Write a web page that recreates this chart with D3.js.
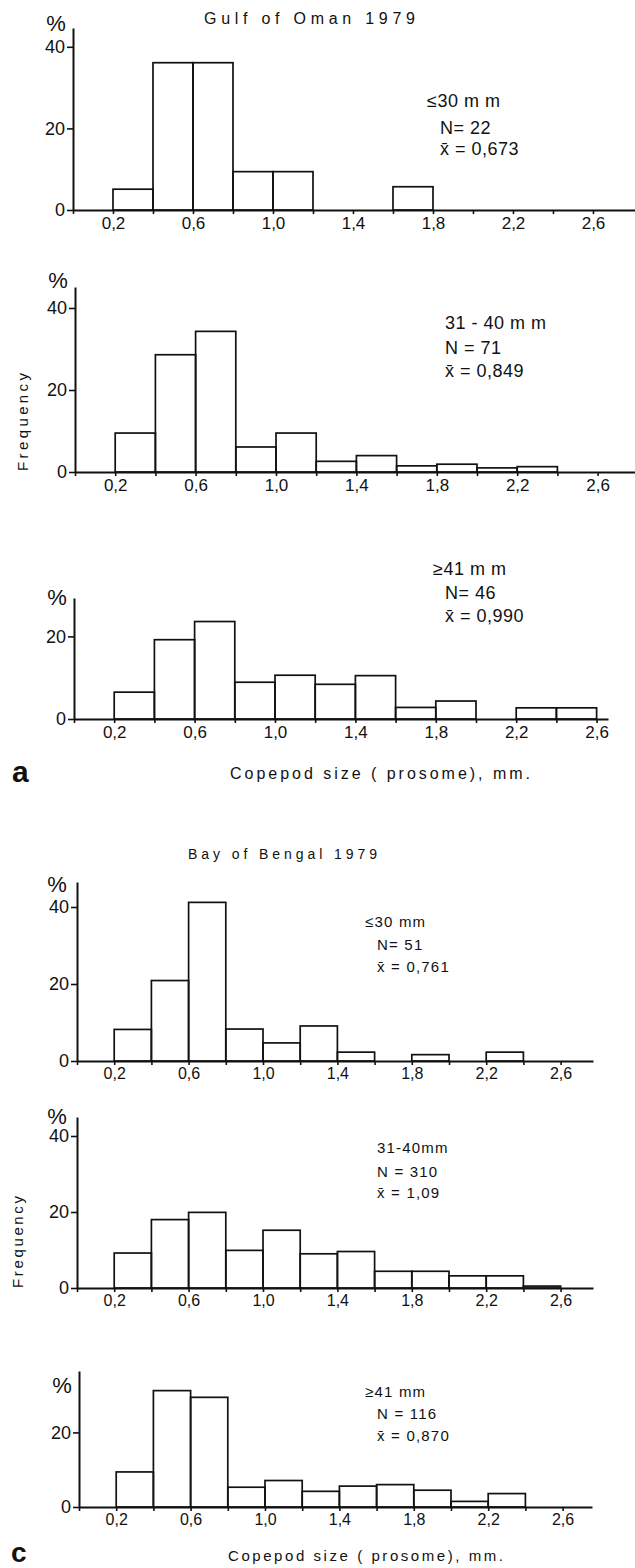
<!DOCTYPE html>
<html lang="en">
<head>
    <meta charset="UTF-8">
    <title>Copepod size frequency</title>
    <script src="https://d3js.org/d3.v7.min.js"></script>
    <style>
        body {
            margin: 0;
            padding: 0;
            background-color: #fff;
        }
        svg text {
            font-family: "Liberation Sans", Arial, sans-serif;
            fill: #111;
        }
    </style>
</head>
<body>
    <svg id="chart" width="635" height="1568"></svg>

    <script>
        // Size classes (prosome, mm): each bin starts here and is 0.2 wide
        const binStarts = [0.2, 0.4, 0.6, 0.8, 1.0, 1.2, 1.4, 1.6, 1.8, 2.0, 2.2, 2.4];
        const binWidth = 0.2;

        // Frequency (%) per bin
        const omanSmall   = [5.1, 36.1, 36.1, 9.4, 9.4, 0, 0, 5.7, 0, 0, 0, 0];
        const omanMid     = [9.5, 28.6, 34.3, 6.1, 9.5, 2.6, 4.0, 1.5, 1.9, 1.0, 1.3, 0];
        const omanLarge   = [6.5, 19.2, 23.6, 8.9, 10.6, 8.4, 10.5, 2.8, 4.35, 0, 2.7, 2.7];
        const bengalSmall = [8.2, 20.9, 41.2, 8.3, 4.7, 9.1, 2.3, 0, 1.65, 0, 2.3, 0];
        const bengalMid   = [9.2, 18.0, 19.9, 9.9, 15.2, 9.0, 9.6, 4.4, 4.4, 3.2, 3.2, 0.5];
        const bengalLarge = [9.4, 31.2, 29.4, 5.3, 7.1, 4.2, 5.6, 6.0, 4.5, 1.5, 3.6, 0];

        // axis ticks
        const xTickValues = [0, 0.2, 0.4, 0.6, 0.8, 1.0, 1.2, 1.4, 1.6, 1.8, 2.0, 2.2, 2.4, 2.6];
        const xLabelValues = [0.2, 0.6, 1.0, 1.4, 1.8, 2.2, 2.6];

        // panel annotations
        const omanSmallText   = ["≤30 m m", "N= 22", "x\u0304 = 0,673"];
        const omanMidText     = ["31 - 40 m m", "N =  71", "x\u0304 =  0,849"];
        const omanLargeText   = ["≥41 m m", "N= 46", "x\u0304 = 0,990"];
        const bengalSmallText = ["≤30  mm", "N=  51", "x\u0304 = 0,761"];
        const bengalMidText   = ["31-40mm", "N = 310", "x\u0304 = 1,09"];
        const bengalLargeText = ["≥41 mm", "N = 116", "x\u0304 = 0,870"];

        const svg = d3.select("#chart");
        const fmt = d3.formatLocale({ decimal: ",", thousands: ".", grouping: [3], currency: ["", ""] }).format(".1f");

        // layout of each panel (pixel positions)
        const panels = [
            { values: omanSmall, text: omanSmallText, x0: 73, x1: 635, px: 200, base: 210, top: 28, pct: 4.08,
              yTicks: [0, 20, 40], tx: [427, 440, 440], ty: [107, 134, 155], fs: 18, xfs: 17, pctPos: [56, 31] },
            { values: omanMid, text: omanMidText, x0: 75, x1: 635, px: 201, base: 472, top: 287, pct: 4.1,
              yTicks: [0, 20, 40], tx: [445, 445, 445], ty: [329, 354, 377], fs: 18, xfs: 17, pctPos: [58, 288] },
            { values: omanLarge, text: omanLargeText, x0: 74, x1: 608, px: 201, base: 719, top: 598, pct: 4.13,
              yTicks: [0, 20], tx: [433, 445, 445], ty: [575, 599, 622], fs: 18, xfs: 17, pctPos: [57, 605] },
            { values: bengalSmall, text: bengalSmallText, x0: 77, x1: 593, px: 186, base: 1061, top: 882, pct: 3.85,
              yTicks: [0, 20, 40], tx: [365, 377, 377], ty: [927, 950, 972], fs: 15, xfs: 16, pctPos: [57, 892] },
            { values: bengalMid, text: bengalMidText, x0: 77, x1: 593, px: 186, base: 1288, top: 1117, pct: 3.8,
              yTicks: [0, 20, 40], tx: [377, 377, 377], ty: [1153, 1177, 1198], fs: 15, xfs: 16, pctPos: [57, 1124] },
            { values: bengalLarge, text: bengalLargeText, x0: 79, x1: 592, px: 186, base: 1507, top: 1371, pct: 3.73,
              yTicks: [0, 20], tx: [365, 377, 377], ty: [1397, 1419, 1441], fs: 15, xfs: 16, pctPos: [62, 1393] }
        ];

        const drawPanel = (p) => {
            const x = d3.scaleLinear()
                .domain([0, (p.x1 - p.x0) / p.px])
                .range([p.x0, p.x1]);
            const y = d3.scaleLinear()
                .domain([0, (p.base - p.top) / p.pct])
                .range([p.base, p.top]);

            const g = svg.append("g");

            // bars
            g.selectAll("rect")
                .data(binStarts.map((b, i) => ({ b, v: p.values[i] })).filter(d => d.v > 0))
                .enter()
                .append("rect")
                .attr("x", d => x(d.b))
                .attr("y", d => y(d.v))
                .attr("width", d => x(d.b + binWidth) - x(d.b))
                .attr("height", d => y(0) - y(d.v))
                .attr("fill", "none")
                .attr("stroke", "#111")
                .attr("stroke-width", 1.7);

            // x axis
            const xAxis = d3.axisBottom(x)
                .tickValues(xTickValues)
                .tickSizeInner(4)
                .tickSizeOuter(0)
                .tickPadding(3)
                .tickFormat(d => xLabelValues.some(v => Math.abs(v - d) < 1e-6) ? fmt(d) : "");
            const xg = g.append("g")
                .attr("transform", `translate(0,${p.base})`)
                .call(xAxis);
            xg.select(".domain").attr("stroke", "#111").attr("stroke-width", 2);
            xg.selectAll(".tick line").attr("stroke", "#111").attr("stroke-width", 1.6);
            xg.selectAll(".tick text")
                .attr("font-size", p.xfs)
                .attr("font-family", "\"Liberation Sans\", Arial, sans-serif")
                .attr("fill", "#111");

            // y axis
            const yAxis = d3.axisLeft(y)
                .tickValues(p.yTicks)
                .tickSizeInner(6)
                .tickSizeOuter(0)
                .tickPadding(2)
                .tickFormat(d3.format("d"));
            const yg = g.append("g")
                .attr("transform", `translate(${p.x0},0)`)
                .call(yAxis);
            yg.select(".domain").attr("stroke", "#111").attr("stroke-width", 2);
            yg.selectAll(".tick line").attr("stroke", "#111").attr("stroke-width", 1.6);
            yg.selectAll(".tick text")
                .attr("font-size", 18)
                .attr("font-family", "\"Liberation Sans\", Arial, sans-serif")
                .attr("fill", "#111");

            // % sign
            g.append("text")
                .attr("x", p.pctPos[0])
                .attr("y", p.pctPos[1])
                .attr("text-anchor", "middle")
                .attr("font-size", 22)
                .text("%");

            // group annotation
            g.selectAll("text.note")
                .data(p.text)
                .enter()
                .append("text")
                .attr("class", "note")
                .attr("x", (d, i) => p.tx[i])
                .attr("y", (d, i) => p.ty[i])
                .attr("font-size", p.fs)
                .attr("letter-spacing", p.fs < 18 ? 1.2 : 0.5)
                .text(d => d);
        };

        panels.forEach(drawPanel);

        // titles, axis labels, panel letters
        const addText = (txt, x, y, size, opts = {}) => {
            const t = svg.append("text")
                .attr("x", x)
                .attr("y", y)
                .attr("font-size", size)
                .text(txt);
            if (opts.len) t.attr("textLength", opts.len).attr("lengthAdjust", "spacing");
            if (opts.bold) t.attr("font-weight", "bold");
            if (opts.rotate) t.attr("transform", `rotate(-90,${x},${y})`).attr("text-anchor", "middle");
            return t;
        };

        addText("Gulf of Oman 1979", 204, 24, 16, { len: 211 });
        addText("Bay of Bengal 1979", 188, 859, 14, { len: 189 });
        addText("Frequency", 28, 422, 15, { len: 98, rotate: true });
        addText("Frequency", 23, 1242, 15, { len: 92, rotate: true });
        addText("a", 12, 782, 30, { bold: true });
        addText("c", 11, 1562, 28, { bold: true });
        addText("Copepod size ( prosome), mm.", 230, 779, 16, { len: 300 });
        addText("Copepod size ( prosome), mm.", 228, 1561, 15, { len: 275 });
    </script>
</body>
</html>
